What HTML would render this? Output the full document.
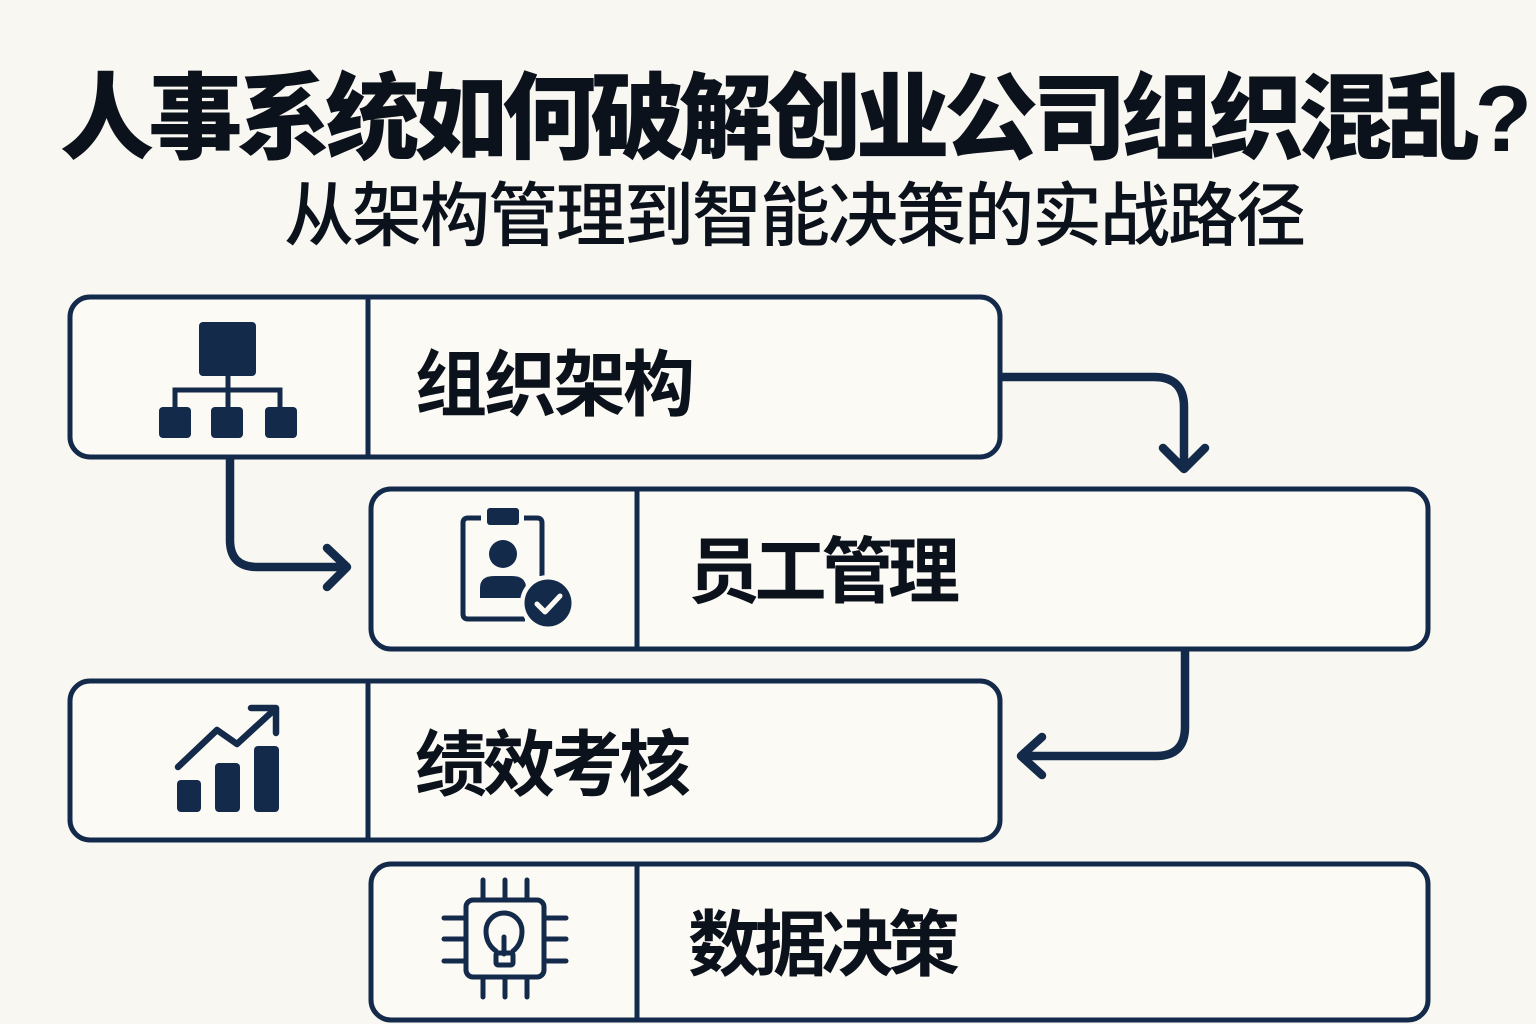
<!DOCTYPE html>
<html>
<head>
<meta charset="utf-8">
<style>
  html,body{margin:0;padding:0;background:#f8f7f1;}
  svg{display:block;}
  .t{font-family:"Liberation Sans","Noto Sans CJK SC",sans-serif;fill:#0c121c;}
</style>
</head>
<body>
<svg width="1536" height="1024" viewBox="0 0 1536 1024" xmlns="http://www.w3.org/2000/svg">
  <rect width="1536" height="1024" fill="#f8f7f1"/>

  <!-- Title -->
  <text class="t" x="60" y="151" font-size="94" font-weight="900" textLength="1472" lengthAdjust="spacing">人事系统如何破解创业公司组织混乱?</text>
  <text class="t" x="284" y="240" font-size="70" font-weight="500" textLength="1022" lengthAdjust="spacing">从架构管理到智能决策的实战路径</text>

  <g fill="#fbfaf5" stroke="#142a4a" stroke-width="5">
    <!-- Box 1 -->
    <rect x="70" y="297" width="930" height="160" rx="20"/>
    <!-- Box 2 -->
    <rect x="371" y="489" width="1057" height="160" rx="20"/>
    <!-- Box 3 -->
    <rect x="70" y="681" width="930" height="159" rx="20"/>
    <!-- Box 4 -->
    <rect x="371" y="864" width="1057" height="156" rx="20"/>
  </g>
  <g stroke="#142a4a" stroke-width="5">
    <line x1="368" y1="298" x2="368" y2="456"/>
    <line x1="637" y1="490" x2="637" y2="648"/>
    <line x1="368" y1="682" x2="368" y2="839"/>
    <line x1="637" y1="865" x2="637" y2="1019"/>
  </g>

  <!-- Labels -->
  <text class="t" x="415" y="410" font-size="72" font-weight="700" textLength="280" lengthAdjust="spacing">组织架构</text>
  <text class="t" x="688" y="597" font-size="72" font-weight="700" textLength="272" lengthAdjust="spacing">员工管理</text>
  <text class="t" x="415" y="790" font-size="72" font-weight="700" textLength="276" lengthAdjust="spacing">绩效考核</text>
  <text class="t" x="688" y="970" font-size="72" font-weight="700" textLength="272" lengthAdjust="spacing">数据决策</text>

  <!-- Org chart icon -->
  <g fill="#142a4a">
    <rect x="199" y="322" width="57" height="54" rx="4"/>
    <rect x="159" y="407" width="32" height="31" rx="4"/>
    <rect x="211" y="407" width="32" height="31" rx="4"/>
    <rect x="265" y="407" width="32" height="31" rx="4"/>
  </g>
  <g fill="none" stroke="#142a4a" stroke-width="5">
    <line x1="228" y1="375" x2="228" y2="408"/>
    <path d="M175,408 V390 H280 V408"/>
  </g>

  <!-- Clipboard icon -->
  <g>
    <path d="M481,518 H468 Q463,518 463,523 V614 Q463,619 468,619 H525" fill="none" stroke="#142a4a" stroke-width="5"/>
    <path d="M524,518 H537 Q542,518 542,523 V576" fill="none" stroke="#142a4a" stroke-width="5"/>
    <rect x="487" y="508" width="32" height="17" rx="3" fill="#142a4a"/>
    <circle cx="503" cy="554" r="14" fill="#142a4a"/>
    <path d="M480,598 V588 Q480,576 494,576 H512 Q526,576 526,588 V598 Z" fill="#142a4a"/>
    <circle cx="548" cy="603" r="28" fill="#fbfaf5"/>
    <circle cx="548" cy="603" r="23.5" fill="#142a4a"/>
    <path d="M537,604 L545,612 L560,596" fill="none" stroke="#fbfaf5" stroke-width="5" stroke-linecap="round" stroke-linejoin="round"/>
  </g>

  <!-- Chart icon -->
  <g fill="#142a4a">
    <rect x="177" y="780" width="24" height="32" rx="4"/>
    <rect x="215" y="763" width="25" height="49" rx="4"/>
    <rect x="254" y="746" width="25" height="66" rx="4"/>
  </g>
  <g fill="none" stroke="#142a4a" stroke-width="6.5" stroke-linecap="round" stroke-linejoin="round">
    <path d="M178,767 L217,730 L237,744 L274,710"/>
    <path d="M251,708 H276 V733"/>
  </g>

  <!-- Chip icon -->
  <g fill="none" stroke="#142a4a" stroke-width="5" stroke-linecap="round">
    <rect x="466" y="900" width="78" height="77" rx="7"/>
    <line x1="483" y1="880" x2="483" y2="900"/>
    <line x1="505" y1="880" x2="505" y2="900"/>
    <line x1="527" y1="880" x2="527" y2="900"/>
    <line x1="483" y1="977" x2="483" y2="997"/>
    <line x1="505" y1="977" x2="505" y2="997"/>
    <line x1="527" y1="977" x2="527" y2="997"/>
    <line x1="444" y1="918" x2="466" y2="918"/>
    <line x1="444" y1="939" x2="466" y2="939"/>
    <line x1="444" y1="961" x2="466" y2="961"/>
    <line x1="544" y1="918" x2="566" y2="918"/>
    <line x1="544" y1="939" x2="566" y2="939"/>
    <line x1="544" y1="961" x2="566" y2="961"/>
    <path d="M496,951 Q486,944 486,931 A18,18 0 1 1 522,931 Q522,944 513,951"/>
    <line x1="504" y1="937" x2="504" y2="954"/>
    <rect x="496" y="953" width="17" height="12" rx="2"/>
  </g>

  <!-- Connectors -->
  <g fill="none" stroke="#142a4a" stroke-width="8.5" stroke-linecap="round" stroke-linejoin="round">
    <path d="M1002,377 H1154 Q1184,377 1184,407 V466"/>
    <path d="M1163,448 L1184,469 L1205,448"/>
    <path d="M230,459 V540 Q230,567 257,567 H344"/>
    <path d="M327,548 L347,567 L327,587"/>
    <path d="M1185,651 V727 Q1185,756 1156,756 H1024"/>
    <path d="M1042,737 L1021,756 L1042,775"/>
  </g>
</svg>
</body>
</html>
